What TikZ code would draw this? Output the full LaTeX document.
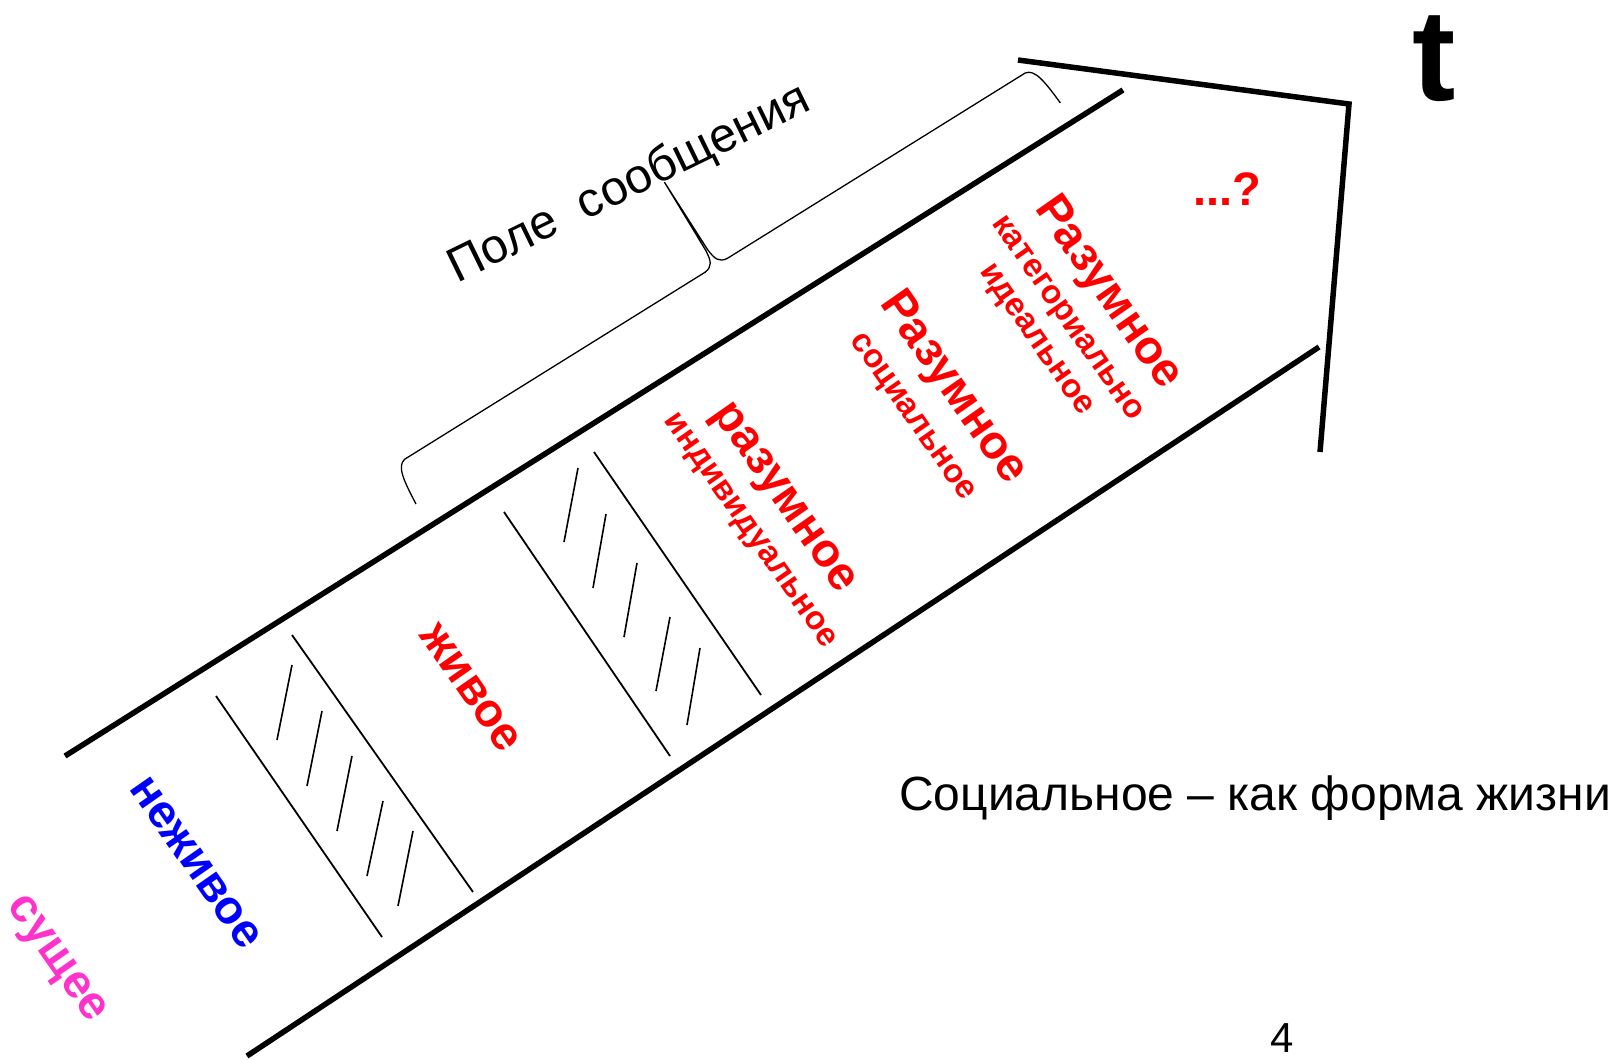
\documentclass[tikz,border=0pt]{standalone}
\usepackage{fontspec}
\setmainfont{Liberation Sans}
\definecolor{pinkm}{RGB}{255,51,204}
\begin{document}
\begin{tikzpicture}[x=1pt,y=-1pt,
  thickline/.style={line width=5.5pt},
  thinline/.style={line width=1.8pt},
  hatchline/.style={line width=1.6pt},
  rt/.style={rotate=-55, inner sep=0pt, anchor=center},
  big/.style={font=\fontsize{47}{56}\selectfont\bfseries, text height=24pt, text depth=0pt},
  small/.style={font=\fontsize{33}{40}\selectfont\bfseries, text height=17pt, text depth=0pt},
]
\useasboundingbox[fill=white] (0,0) rectangle (1612,1060);

% main arrow body
\draw[thickline] (65,756) -- (1123,90);
\draw[thickline] (247,1056) -- (1319,347);
\draw[thickline, line join=miter] (1018,60) -- (1349,104) -- (1320,452);

% hatched band 1
\draw[thinline] (216,696) -- (382,937);
\draw[thinline] (292,635) -- (473,892);
\foreach \a/\b/\c/\d in {292/665/277/740, 322/711/307/786, 352/756/337/831, 383/801/367/876, 413/831/398/906}
  \draw[hatchline] (\a,\b) -- (\c,\d);

% hatched band 2
\draw[thinline] (504,512) -- (670,756);
\draw[thinline] (594,452) -- (761,695);
\foreach \a/\b/\c/\d in {578/468/564/542, 606/514/593/588, 637/563/624/637, 670/617/656/691, 700/648/687/725}
  \draw[hatchline] (\a,\b) -- (\c,\d);

% brace
\begin{scope}[shift={(416,504)}, rotate=31.9]
\draw[line width=1.3pt] (0,0) .. controls (2,-28) and (4,-42) .. (14,-44) -- (368,-44)
  .. controls (377,-45) and (379,-50) .. (380,-62) -- (381,-142) -- (382,-62)
  .. controls (383,-50) and (385,-45) .. (394,-44) -- (745,-44)
  .. controls (755,-42) and (757,-28) .. (759,0);
\end{scope}

% texts
\node[font=\fontsize{48.5}{58}\selectfont, rotate=26, inner sep=0pt, text height=25pt, text depth=0pt] (pole) at (630,185) {Поле~~сообщения};
\node[font=\fontsize{130}{150}\selectfont\bfseries, anchor=base, inner sep=0pt] (t) at (1434,100) {t};
\node[font=\fontsize{47}{56}\selectfont\bfseries, text=red, anchor=base, inner sep=0pt] (q) at (1227,205) {...?};

\node[rt, big, text=pinkm] (sushchee) at (58,958) {сущее};
\node[rt, big, text=blue] (nezhivoe) at (195,863) {неживое};
\node[rt, big, text=red] (zhivoe) at (470,688) {живое};

\node[rt, big, text=red] (raz1) at (785,497) {разумное};
\node[rt, small, text=red] (ind) at (751,530) {индивидуальное};

\node[rt, big, text=red] (raz2) at (953,388) {Разумное};
\node[rt, small, text=red] (soc) at (913,416) {социальное};

\node[rt, big, text=red] (raz3) at (1108,293) {Разумное};
\node[rt, small, text=red] (kat) at (1068,318) {категориально};
\node[rt, small, text=red] (ideal) at (1037,339) {идеальное};

\node[font=\fontsize{48}{58}\selectfont, anchor=base west, inner sep=0pt] (soctext) at (899,810) {Социальное – как форма жизни};
\node[font=\fontsize{42}{50}\selectfont, anchor=base, inner sep=0pt] (num) at (1282,1052) {4};
\end{tikzpicture}
\end{document}
